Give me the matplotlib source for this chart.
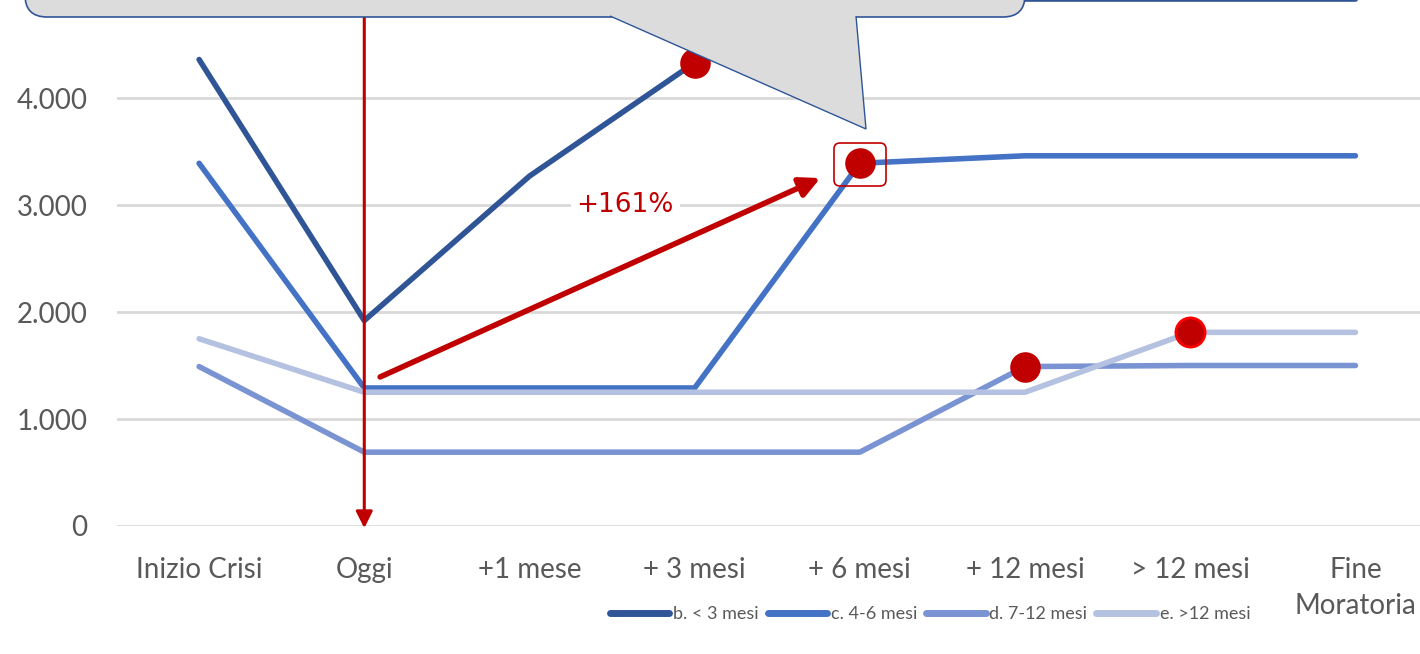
import numpy as np
import matplotlib
matplotlib.use("Agg")
import matplotlib.pyplot as plt
from matplotlib.patches import FancyBboxPatch, Polygon
from matplotlib.lines import Line2D

plt.rcParams['font.family'] = ['Lato', 'DejaVu Sans']

# categories and series
categories = ['Inizio Crisi', 'Oggi', '+1 mese', '+ 3 mesi', '+ 6 mesi', '+ 12 mesi', '> 12 mesi', 'Fine\nMoratoria']
series_names = ['b. < 3 mesi', 'c. 4-6 mesi', 'd. 7-12 mesi', 'e. >12 mesi']
b_vals = [4360, 1920, 3270, 4330, 4925, 4925, 4925, 4925]
c_vals = [3390, 1290, 1290, 1290, 3390, 3460, 3460, 3460]
d_vals = [1490, 690, 690, 690, 690, 1490, 1500, 1500]
e_vals = [1750, 1250, 1250, 1250, 1250, 1250, 1810, 1810]
colors = ['#2F5597', '#4472C4', '#7A93D2', '#B4C1E1']

# highlighted points (category index, value)
dot_x = [3, 4, 5, 6]
dot_y = [4330, 3390, 1490, 1810]

W, H = 1420, 654
fig = plt.figure(figsize=(W / 100, H / 100), dpi=100)
ax = fig.add_axes([116.5 / W, 128 / H, (1438 - 116.5) / W, 526 / H])
x = np.arange(len(categories))

ax.set_xlim(-0.5, 7.5)
ax.set_ylim(0, 4916)
for yv in [0, 1000, 2000, 3000, 4000]:
    ax.axhline(yv, color='#D9D9D9', lw=2, zorder=0)

for vals, col, name in zip([b_vals, c_vals, d_vals, e_vals], colors, series_names):
    ax.plot(x, vals, color=col, lw=4, label=name, zorder=2, solid_capstyle='round')

ax.plot(dot_x[:3], dot_y[:3], 'o', color='#C00000', ms=21, zorder=4)
ax.plot(dot_x[3:], dot_y[3:], 'o', color='#C00000', mec='#FF0000', mew=2, ms=21, zorder=4)

ax.set_yticks([0, 1000, 2000, 3000, 4000])
ax.set_yticklabels(['0', '1.000', '2.000', '3.000', '4.000'])
ax.set_xticks(x)
ax.set_xticklabels(categories, linespacing=1.5)
ax.tick_params(length=0, labelsize=20, colors='#595959')
ax.tick_params(axis='x', pad=22)
ax.tick_params(axis='y', pad=21)
for s in ax.spines.values():
    s.set_visible(False)

# vertical arrow at "Oggi"
ax.annotate('', xy=(1, -20), xytext=(1, 5000),
            arrowprops=dict(arrowstyle='-|>', color='#C00000', lw=2.2,
                            mutation_scale=25, shrinkA=0, shrinkB=0),
            annotation_clip=False, zorder=3)
# diagonal arrow
ax.annotate('', xy=(3.761, 3252), xytext=(1.096, 1393),
            arrowprops=dict(arrowstyle='-|>', color='#C00000', lw=4,
                            mutation_scale=30, shrinkA=0, shrinkB=0),
            zorder=3)
ax.text(2.58, 3000, '+161%', color='#C00000', fontsize=19, ha='center', va='center',
        family='DejaVu Sans', bbox=dict(facecolor='white', edgecolor='none', pad=4), zorder=3)

# overlay in pixel coords (y from top) for the callout shape
ov = fig.add_axes([0, 0, 1, 1], zorder=5)
ov.set_xlim(0, W)
ov.set_ylim(H, 0)
ov.axis('off')
ov.patch.set_alpha(0)

box = FancyBboxPatch((25, -60), 1000, 77, boxstyle='round,pad=0,rounding_size=22',
                     facecolor='#DCDCDC', edgecolor='#2F5597', lw=1.2)
ov.add_patch(box)
tri = Polygon([(610, 16), (866, 129), (856, 16)], closed=False,
              facecolor='#DCDCDC', edgecolor='#2F5597', lw=1.0)
ov.add_patch(tri)

hl = FancyBboxPatch((834, 143), 52, 43, boxstyle='round,pad=0,rounding_size=6',
                    facecolor='none', edgecolor='#C00000', lw=1.2)
ov.add_patch(hl)

handles = [Line2D([], [], color=c, lw=5, solid_capstyle='round') for c in colors]
fig.legend(handles, series_names, loc='center', bbox_to_anchor=(930 / W, 1 - 614 / H),
           ncol=4, frameon=False, fontsize=13, labelcolor='#595959', handlelength=3.3,
           handletextpad=0.2, columnspacing=0.5)

fig.savefig('out.png', dpi=100)
